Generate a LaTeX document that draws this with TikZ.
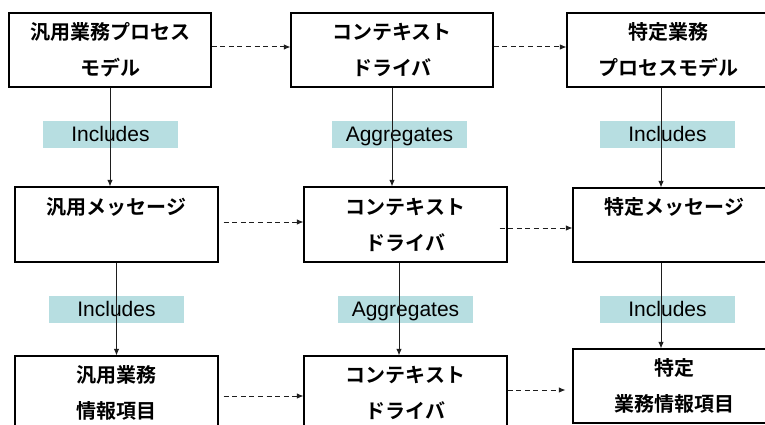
\documentclass[tikz,border=0pt]{standalone}
\usepackage{fontspec}
\setmainfont{Liberation Sans}
\newfontfamily\jp{Noto Sans CJK JP}[BoldFont={Noto Sans CJK JP Bold}]
\usetikzlibrary{arrows.meta}
\definecolor{labelfill}{RGB}{183,222,225}
\definecolor{linegray}{RGB}{30,30,30}
\tikzset{
  box/.style={draw=black, line width=1.1pt, fill=white, minimum height=74pt, inner sep=0pt,
    align=center, font=\jp\bfseries\fontsize{20pt}{36pt}\selectfont},
  relabel/.style={fill=labelfill, minimum width=135pt, minimum height=27pt, inner sep=0pt,
    text height=17pt, text depth=2.6pt,
    font=\fontsize{21pt}{24pt}\selectfont},
  solidarrow/.style={draw=linegray, line width=1pt, -{Latex[length=6.5pt,width=5.5pt]}},
  dasharrow/.style={draw=linegray, line width=1pt, dash pattern=on 5pt off 3.6pt,
    -{Latex[length=6.5pt,width=5.5pt]}},
}
\begin{document}
\begin{tikzpicture}[x=1pt,y=-1pt]
\useasboundingbox (0,0) rectangle (765,425);
\clip (0,0) rectangle (765,425);
\fill[white] (0,0) rectangle (765,425);

% labels (drawn first, connectors pass over them)
\node[relabel] (l1a) at (110.5,134.5) {Includes};
\node[relabel] (l1b) at (399.5,134.5) {Aggregates};
\node[relabel] (l1c) at (667.5,134.5) {Includes};
\node[relabel] (l2a) at (116.5,309.5) {Includes};
\node[relabel] (l2b) at (405.5,309.5) {Aggregates};
\node[relabel] (l2c) at (667.5,309.5) {Includes};

% boxes
\node[box, minimum width=202pt] (a1) at (110,50) {汎用業務プロセス\\モデル};
\node[box, minimum width=202pt] (b1) at (392,50) {コンテキスト\\ドライバ};
\node[box, minimum width=202pt] (c1) at (668,50) {特定業務\\プロセスモデル};

\node[box, minimum width=203pt, minimum height=75pt] (a2) at (116.5,224.5) {汎用メッセージ\\\phantom{汎}};
\node[box, minimum width=203pt, minimum height=75pt] (b2) at (405.5,224.5) {コンテキスト\\ドライバ};
\node[box, minimum width=203pt] (c2) at (674.5,225) {特定メッセージ\\\phantom{特}};

\node[box, minimum width=203pt] (a3) at (116.5,393) {汎用業務\\情報項目};
\node[box, minimum width=203pt] (b3) at (405.5,393) {コンテキスト\\ドライバ};
\node[box, minimum width=203pt] (c3) at (674.5,386) {特定\\業務情報項目};

% vertical connectors
\draw[solidarrow] (a1.south) -- (a1.south |- a2.north);
\draw[solidarrow] (b1.south) -- (b1.south |- b2.north);
\coordinate (c1s) at ([xshift=-7pt]c1.south);
\draw[solidarrow] (c1s) -- (c1s |- c2.north);

\draw[solidarrow] (a2.south) -- (a2.south |- a3.north);
\coordinate (b2s) at ([xshift=-6.5pt]b2.south);
\draw[solidarrow] (b2s) -- (b2s |- b3.north);
\coordinate (c2s) at ([xshift=-13.5pt]c2.south);
\draw[solidarrow] (c2s) -- (c2s |- c3.north);

% horizontal dashed connectors
\coordinate (r1a) at ([yshift=3pt]a1.east);
\draw[dasharrow] (r1a) -- (r1a -| b1.west);
\coordinate (r1b) at ([yshift=3pt]b1.east);
\draw[dasharrow] (r1b) -- (r1b -| c1.west);

\coordinate (r2a) at ([xshift=5pt,yshift=2.5pt]a2.east);
\draw[dasharrow] (r2a) -- (r2a -| b2.west);
\coordinate (r2b) at ([xshift=-8pt,yshift=-3.5pt]b2.east);
\draw[dasharrow] (r2b) -- (r2b -| c2.west);

\coordinate (r3a) at ([xshift=5pt,yshift=-3pt]a3.east);
\draw[dasharrow] (r3a) -- (r3a -| b3.west);
\coordinate (r3b) at ([yshift=3pt]b3.east);
\draw[dasharrow, shorten >=7pt] (r3b) -- (r3b -| c3.west);
\end{tikzpicture}
\end{document}
